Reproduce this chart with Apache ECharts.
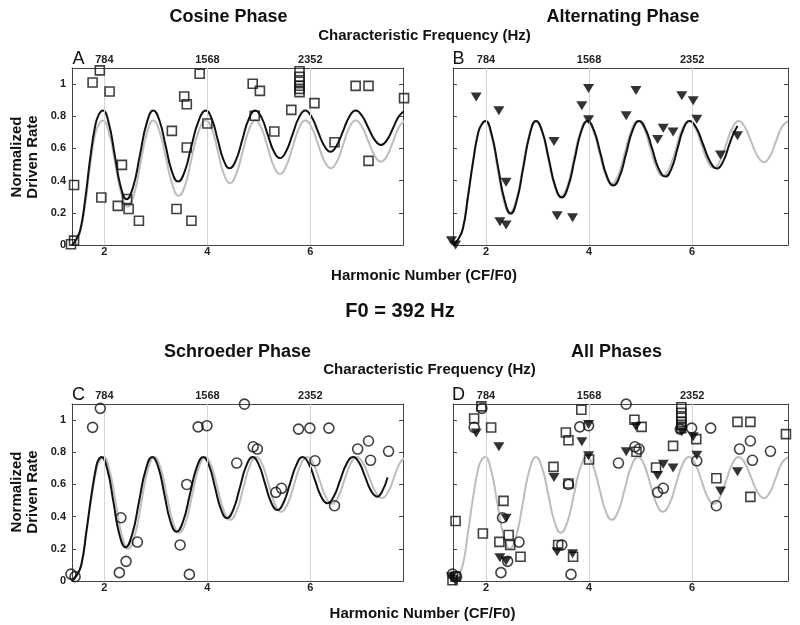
<!DOCTYPE html>
<html><head><meta charset="utf-8">
<script src="https://cdn.jsdelivr.net/npm/echarts/dist/echarts.min.js"></script>
<style>html,body{margin:0;padding:0;background:#fff}#c{width:800px;height:625px}</style>
</head><body><div id="c"></div>
<script>
const F0 = 392;
const harmonicTicks = [2, 4, 6];
const freqTicks = [784, 1568, 2352];
const rateTicks = [0, 0.2, 0.4, 0.6, 0.8, 1];

// Cosine phase data (squares)
const cosinePts = [[1.35,0.005],[1.41,0.027],[1.41,0.373],[1.77,1.01],[1.91,1.085],[2.10,0.954],[1.94,0.295],[2.34,0.498],[2.26,0.243],[2.44,0.286],[2.47,0.224],[2.67,0.151],[3.31,0.709],[3.40,0.224],[3.55,0.923],[3.60,0.875],[3.60,0.606],[3.69,0.151],[3.85,1.064],[4.0,0.755],[4.88,1.002],[5.02,0.958],[4.92,0.803],[5.30,0.705],[5.63,0.84],[5.79,1.08],[5.79,1.045],[5.79,1.015],[5.79,0.99],[5.79,0.97],[5.79,0.95],[6.08,0.882],[6.47,0.639],[6.88,0.989],[7.13,0.989],[7.13,0.523],[7.82,0.913]];
// Alternating phase data (triangles)
const altPts = [[1.33,0.027],[1.41,0.0],[1.81,0.92],[2.25,0.834],[2.39,0.39],[2.27,0.145],[2.39,0.124],[3.32,0.643],[3.38,0.182],[3.68,0.170],[3.86,0.866],[3.99,0.972],[3.99,0.778],[4.91,0.96],[4.72,0.803],[5.80,0.928],[6.02,0.897],[6.09,0.782],[5.44,0.726],[5.63,0.702],[5.33,0.656],[6.55,0.56],[6.88,0.679]];
// Schroeder phase data (circles)
const schroederPts = [[1.35,0.043],[1.43,0.027],[1.77,0.955],[1.92,1.073],[2.32,0.393],[2.29,0.052],[2.42,0.122],[2.64,0.242],[3.47,0.224],[3.60,0.60],[3.65,0.041],[3.82,0.958],[3.99,0.965],[4.57,0.733],[4.72,1.099],[4.89,0.834],[4.97,0.820],[5.33,0.551],[5.44,0.576],[5.77,0.944],[5.99,0.950],[6.09,0.747],[6.36,0.950],[6.47,0.468],[6.92,0.820],[7.13,0.870],[7.17,0.750],[7.52,0.806]];

// Model curves
const grayCurveA = [[1.37,0.0],[1.45,0.03],[1.53,0.08],[1.625,0.25],[1.72,0.49],[1.82,0.69],[1.89,0.75],[1.97,0.774],
  [2.09,0.696],[2.21,0.506],[2.33,0.316],[2.45,0.238],[2.575,0.316],[2.70,0.506],[2.825,0.696],[2.95,0.774],
  [3.07,0.706],[3.195,0.54],[3.32,0.374],[3.44,0.305],[3.57,0.374],[3.695,0.54],[3.83,0.706],[3.97,0.774],
  [4.09,0.717],[4.205,0.579],[4.32,0.441],[4.44,0.384],[4.56,0.441],[4.685,0.579],[4.81,0.717],[4.93,0.774],
  [5.05,0.726],[5.17,0.608],[5.29,0.49],[5.41,0.442],[5.53,0.49],[5.655,0.608],[5.78,0.726],[5.90,0.774],
  [6.025,0.731],[6.15,0.626],[6.275,0.521],[6.40,0.477],[6.52,0.521],[6.64,0.626],[6.76,0.731],[6.88,0.774],
  [7.0,0.737],[7.125,0.646],[7.25,0.555],[7.37,0.518],[7.49,0.555],[7.61,0.646],[7.73,0.737],[7.85,0.774]];
const blackCurveA = [[1.37,0.0],[1.45,0.035],[1.53,0.093],[1.625,0.28],[1.72,0.53],[1.82,0.74],[1.89,0.81],[1.97,0.836],
  [2.085,0.756],[2.20,0.56],[2.315,0.364],[2.43,0.285],[2.56,0.364],[2.69,0.56],[2.82,0.756],[2.95,0.836],
  [3.07,0.772],[3.19,0.615],[3.31,0.458],[3.43,0.394],[3.56,0.458],[3.69,0.615],[3.83,0.772],[3.97,0.836],
  [4.085,0.784],[4.20,0.656],[4.315,0.528],[4.43,0.477],[4.555,0.528],[4.68,0.656],[4.805,0.784],[4.93,0.836],
  [5.05,0.793],[5.17,0.688],[5.29,0.583],[5.41,0.54],[5.53,0.583],[5.655,0.688],[5.78,0.793],[5.90,0.836],
  [6.02,0.799],[6.145,0.708],[6.27,0.617],[6.39,0.58],[6.51,0.617],[6.635,0.708],[6.76,0.799],[6.88,0.836],
  [7.0,0.805],[7.125,0.729],[7.25,0.653],[7.37,0.622],[7.49,0.653],[7.61,0.729],[7.73,0.805],[7.85,0.836]];
const grayCurve = [[1.36,0.0],[1.45,0.03],[1.55,0.1],[1.65,0.3],[1.75,0.52],[1.85,0.70],[1.91,0.75],[1.98,0.77],
  [2.10,0.687],[2.22,0.485],[2.34,0.283],[2.46,0.20],[2.59,0.283],[2.715,0.485],[2.84,0.687],[2.97,0.77],
  [3.09,0.702],[3.21,0.535],[3.33,0.368],[3.45,0.30],[3.58,0.368],[3.705,0.535],[3.83,0.702],[3.96,0.77],
  [4.08,0.713],[4.20,0.575],[4.32,0.437],[4.44,0.38],[4.57,0.437],[4.695,0.575],[4.82,0.713],[4.95,0.77],
  [5.07,0.721],[5.19,0.60],[5.31,0.479],[5.43,0.43],[5.56,0.479],[5.685,0.60],[5.81,0.721],[5.94,0.77],
  [6.06,0.728],[6.18,0.625],[6.30,0.522],[6.42,0.48],[6.54,0.522],[6.66,0.625],[6.78,0.728],[6.90,0.77],
  [7.02,0.734],[7.145,0.643],[7.27,0.552],[7.39,0.515],[7.51,0.552],[7.625,0.643],[7.74,0.734],[7.86,0.77]];
const blackCurveB = [[1.36,0.0],[1.45,0.03],[1.55,0.1],[1.65,0.3],[1.75,0.52],[1.85,0.70],[1.92,0.75],[1.99,0.77],
  [2.11,0.687],[2.235,0.483],[2.36,0.279],[2.48,0.195],[2.60,0.279],[2.725,0.483],[2.85,0.687],[2.97,0.77],
  [3.095,0.702],[3.22,0.533],[3.345,0.364],[3.47,0.295],[3.595,0.364],[3.72,0.533],[3.845,0.702],[3.97,0.77],
  [4.095,0.712],[4.22,0.57],[4.345,0.428],[4.47,0.37],[4.595,0.428],[4.72,0.57],[4.845,0.712],[4.97,0.77],
  [5.095,0.721],[5.225,0.598],[5.35,0.475],[5.48,0.425],[5.60,0.475],[5.715,0.598],[5.83,0.721],[5.95,0.77],
  [6.08,0.728],[6.215,0.623],[6.35,0.518],[6.48,0.475],[6.60,0.518],[6.72,0.623],[6.80,0.69],[6.88,0.74]];
const blackCurveC = [[1.37,0.0],[1.45,0.03],[1.55,0.1],[1.65,0.31],[1.75,0.54],[1.84,0.71],[1.88,0.75],[1.94,0.77],
  [2.06,0.689],[2.175,0.49],[2.29,0.291],[2.41,0.21],[2.54,0.291],[2.67,0.49],[2.80,0.689],[2.93,0.77],
  [3.05,0.703],[3.165,0.538],[3.28,0.373],[3.40,0.306],[3.53,0.373],[3.66,0.538],[3.79,0.703],[3.92,0.77],
  [4.035,0.715],[4.15,0.58],[4.265,0.445],[4.38,0.39],[4.505,0.445],[4.63,0.58],[4.755,0.715],[4.88,0.77],
  [5.0,0.722],[5.12,0.605],[5.24,0.488],[5.36,0.441],[5.48,0.488],[5.605,0.605],[5.73,0.722],[5.85,0.77],
  [5.97,0.729],[6.09,0.627],[6.21,0.525],[6.33,0.483],[6.455,0.525],[6.58,0.627],[6.705,0.729],[6.83,0.77],
  [6.95,0.734],[7.065,0.647],[7.18,0.56],[7.30,0.524],[7.40,0.56],[7.50,0.644]];

const panelTitles = ['Cosine Phase', 'Alternating Phase', 'Schroeder Phase', 'All Phases'];
const panelLetters = ['A', 'B', 'C', 'D'];

const FONT = '"Liberation Sans", Arial, Helvetica, sans-serif';
const H = 177;
const panels = [
  {left: 72, top: 68, width: 331, xmin: 1.37, xmax: 7.8, yLabels: true, titleX: 228.5, titleY: 17, letterX: 78.5},
  {left: 453, top: 68, width: 335, xmin: 1.36, xmax: 7.86, yLabels: false, titleX: 623, titleY: 17, letterX: 458.5},
  {left: 72, top: 404, width: 331, xmin: 1.37, xmax: 7.8, yLabels: true, titleX: 237.5, titleY: 352, letterX: 78.5},
  {left: 453, top: 404, width: 335, xmin: 1.36, xmax: 7.86, yLabels: false, titleX: 616.5, titleY: 352, letterX: 458.5}
];
const lines = [
  [{d: grayCurveA, c: '#bdbdbd'}, {d: blackCurveA, c: '#111'}],
  [{d: grayCurve, c: '#bdbdbd'}, {d: blackCurveB, c: '#111'}],
  [{d: grayCurve, c: '#bdbdbd'}, {d: blackCurveC, c: '#111'}],
  [{d: grayCurve, c: '#bdbdbd'}]
];
const SQ = {symbol: 'rect', symbolSize: 9, itemStyle: {color: 'rgba(0,0,0,0)', borderColor: '#111', borderWidth: 1.6}};
const TR = {symbol: 'triangle', symbolRotate: 180, symbolSize: [11, 9], itemStyle: {color: '#000'}};
const CI = {symbol: 'circle', symbolSize: 10, itemStyle: {color: 'rgba(0,0,0,0)', borderColor: '#111', borderWidth: 1.6}};
const marks = [
  [[cosinePts, SQ]],
  [[altPts, TR]],
  [[schroederPts, CI]],
  [[cosinePts, SQ], [altPts, TR], [schroederPts, CI]]
];

const frame = {show: true, onZero: false, lineStyle: {color: '#444', width: 1}};
const lbl = {color: '#222', fontFamily: FONT, fontWeight: 'bold', fontSize: 11};
const grid = [], xAxis = [], yAxis = [], series = [], graphic = [];

panels.forEach((p, i) => {
  grid.push({left: p.left, top: p.top, width: p.width, height: H, containLabel: false});
  xAxis.push({gridIndex: i, type: 'value', position: 'bottom', min: p.xmin, max: p.xmax,
    axisLine: frame, splitLine: {show: false},
    axisTick: {show: true, inside: true, length: 4, customValues: harmonicTicks, lineStyle: {color: '#444'}},
    axisLabel: Object.assign({customValues: harmonicTicks, margin: 1, formatter: v => String(v)}, lbl)});
  xAxis.push({gridIndex: i, type: 'value', position: 'top', min: p.xmin * F0, max: p.xmax * F0,
    axisLine: frame, splitLine: {show: false},
    axisTick: {show: true, inside: true, length: 4, customValues: freqTicks, lineStyle: {color: '#444'}},
    axisLabel: Object.assign({customValues: freqTicks, margin: 3, formatter: v => String(v)}, lbl)});
  yAxis.push({gridIndex: i, type: 'value', position: 'left', min: 0, max: 1.1,
    axisLine: frame, splitLine: {show: false},
    axisTick: {show: true, inside: true, length: 4, customValues: rateTicks, lineStyle: {color: '#444'}},
    axisLabel: Object.assign({show: p.yLabels, customValues: rateTicks, margin: 6, formatter: v => String(+Number(v).toFixed(1))}, lbl)});
  yAxis.push({gridIndex: i, type: 'value', position: 'right', min: 0, max: 1.1,
    axisLine: frame, splitLine: {show: false},
    axisTick: {show: true, inside: true, length: 4, customValues: rateTicks, lineStyle: {color: '#444'}},
    axisLabel: {show: false}});

  lines[i].forEach((l, k) => {
    const s = {type: 'line', xAxisIndex: 2 * i, yAxisIndex: 2 * i, data: l.d, showSymbol: false,
      smooth: 0.5, lineStyle: {color: l.c, width: 2}, z: 2 + k, silent: true};
    if (k === 0) {
      s.markLine = {silent: true, symbol: ['none', 'none'], label: {show: false},
        lineStyle: {color: '#d4d4d4', width: 1, type: 'solid'},
        data: harmonicTicks.map(v => ({xAxis: v}))};
    }
    series.push(s);
  });
  marks[i].forEach(([d, st]) => {
    series.push(Object.assign({type: 'scatter', xAxisIndex: 2 * i, yAxisIndex: 2 * i, data: d, clip: false, z: 5, silent: true}, st));
  });

  graphic.push({type: 'text', x: p.titleX, y: p.titleY, style: {text: panelTitles[i], font: 'bold 18px ' + FONT, fill: '#111', textAlign: 'center', textVerticalAlign: 'middle'}});
  graphic.push({type: 'text', x: p.letterX, y: p.top - 9, style: {text: panelLetters[i], font: '18px ' + FONT, fill: '#111', textAlign: 'center', textVerticalAlign: 'middle'}});
});

const common = [
  [424.5, 36, 'Characteristic Frequency (Hz)'],
  [424, 276, 'Harmonic Number (CF/F0)'],
  [429.5, 370, 'Characteristic Frequency (Hz)'],
  [422.5, 614, 'Harmonic Number (CF/F0)']
];
common.forEach(([x, y, t]) => graphic.push({type: 'text', x, y, style: {text: t, font: 'bold 15px ' + FONT, fill: '#111', textAlign: 'center', textVerticalAlign: 'middle'}}));
[157, 492].forEach(y => graphic.push({type: 'text', x: 25, y, rotation: Math.PI / 2,
  style: {text: 'Normalized\nDriven Rate', font: 'bold 15px ' + FONT, lineHeight: 16, fill: '#111', textAlign: 'center', textVerticalAlign: 'middle'}}));
graphic.push({type: 'text', x: 400, y: 311, style: {text: 'F0 = ' + F0 + ' Hz', font: 'bold 20px ' + FONT, fill: '#111', textAlign: 'center', textVerticalAlign: 'middle'}});

const chart = echarts.init(document.getElementById('c'), null, {renderer: 'canvas'});
chart.setOption({animation: false, backgroundColor: '#fff', grid, xAxis, yAxis, series, graphic});
</script></body></html>
